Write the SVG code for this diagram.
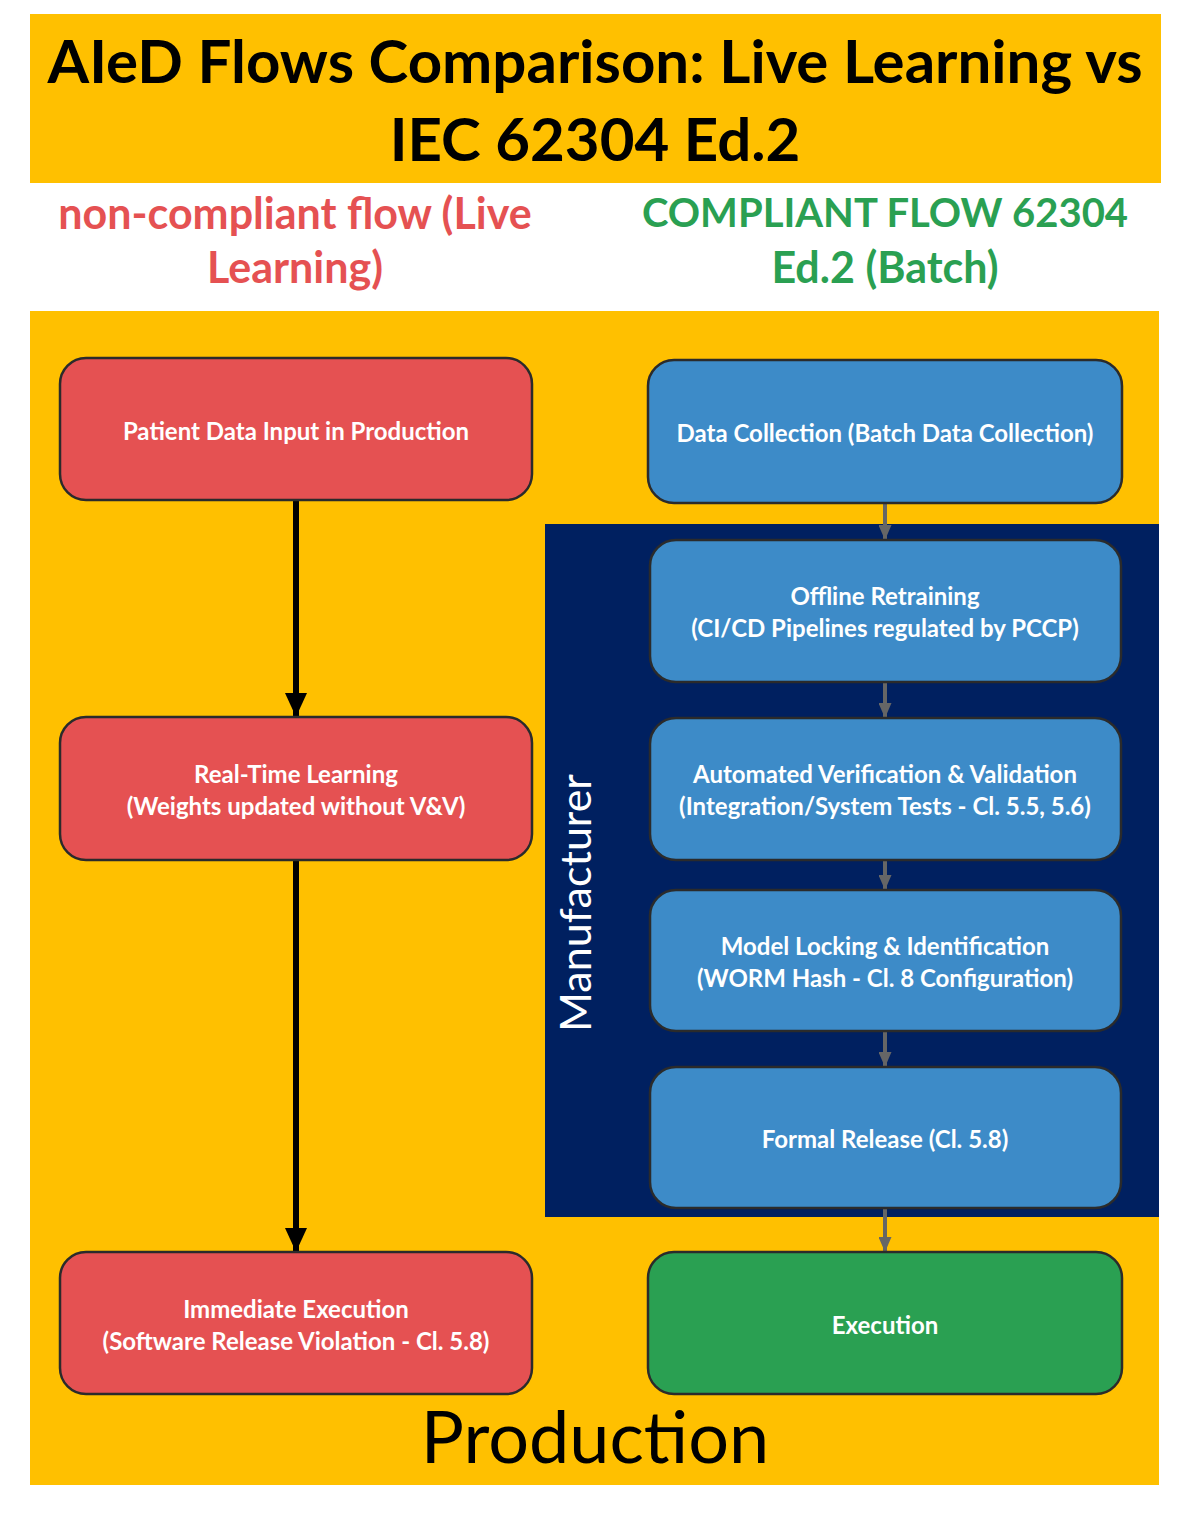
<svg xmlns="http://www.w3.org/2000/svg" width="1200" height="1528" viewBox="0 0 1200 1528">
<defs>
<style>
.bg{fill:#FFC000}
.red{fill:#E55152;stroke:#2B2B2B;stroke-width:2.5}
.blue{fill:#3D8BC8;stroke:#2B2B2B;stroke-width:2.5}
.green{fill:#2AA052;stroke:#2B2B2B;stroke-width:2.5}
.nt{font-family:Lato,"Open Sans",sans-serif;font-weight:bold;font-size:24px;fill:#FFFFFF;text-anchor:middle;dominant-baseline:central}
.title{font-family:Lato,"Open Sans",sans-serif;font-weight:bold;font-size:60px;fill:#000;text-anchor:middle;dominant-baseline:central}
.sub{font-family:Lato,"Open Sans",sans-serif;font-weight:bold;font-size:43px;text-anchor:middle;dominant-baseline:central}
.subg{font-family:Lato,"Open Sans",sans-serif;font-weight:bold;font-size:40px;text-anchor:middle;dominant-baseline:central}
.blk{stroke:#000;stroke-width:6;fill:none}
.gry{stroke:#666;stroke-width:4;fill:none}
</style>
<marker id="ab" markerUnits="userSpaceOnUse" markerWidth="24" markerHeight="22" refX="23" refY="11" orient="auto" viewBox="0 0 24 22"><path d="M0,0 L24,11 L0,22 Z" fill="#000"/></marker>
<marker id="ag" markerUnits="userSpaceOnUse" markerWidth="15" markerHeight="13" refX="14" refY="6.5" orient="auto" viewBox="0 0 15 13"><path d="M0,0 L15,6.5 L0,13 Z" fill="#666"/></marker>
</defs>
<rect width="1200" height="1528" fill="#fff"/>
<g id="title">
<rect class="bg" x="30" y="14" width="1131" height="169"/>
<text class="title" x="595" y="60">AIeD Flows Comparison: Live Learning vs</text>
<text class="title" x="595" y="138">IEC 62304 Ed.2</text>
</g>
<g id="subtitles">
<text class="sub" x="295" y="212" fill="#E55152">non-compliant flow (Live</text>
<text class="sub" x="295" y="266" fill="#E55152">Learning)</text>
<text class="subg" x="885" y="212" fill="#2AA052">COMPLIANT FLOW 62304</text>
<text class="sub" x="885" y="266" fill="#2AA052">Ed.2 (Batch)</text>
</g>
<g id="production">
<rect class="bg" x="30" y="311" width="1129" height="1174"/>
<text x="595" y="1435" font-family="Lato,'Open Sans',sans-serif" font-size="72" fill="#000" text-anchor="middle" dominant-baseline="central">Production</text>
</g>
<g id="manufacturer">
<rect x="545" y="524" width="614" height="693" fill="#002060"/>
<text transform="translate(574,903) rotate(-90)" font-family="Lato,'Open Sans',sans-serif" font-size="43" fill="#fff" text-anchor="middle" dominant-baseline="central">Manufacturer</text>
</g>
<g id="connectors">
<line class="blk" x1="296" y1="501" x2="296" y2="716" marker-end="url(#ab)"/>
<line class="blk" x1="296" y1="860" x2="296" y2="1251" marker-end="url(#ab)"/>
<line class="gry" x1="885" y1="503" x2="885" y2="539" marker-end="url(#ag)"/>
<line class="gry" x1="885" y1="682" x2="885" y2="717" marker-end="url(#ag)"/>
<line class="gry" x1="885" y1="860" x2="885" y2="889" marker-end="url(#ag)"/>
<line class="gry" x1="885" y1="1031" x2="885" y2="1066" marker-end="url(#ag)"/>
<line class="gry" x1="885" y1="1208" x2="885" y2="1251" marker-end="url(#ag)"/>
</g>
<g id="n_patient">
<rect class="red" x="60" y="358" width="472" height="142" rx="26"/>
<text class="nt" x="296" y="430">Patient Data Input in Production</text>
</g>
<g id="n_realtime">
<rect class="red" x="60" y="717" width="472" height="143" rx="26"/>
<text class="nt" x="296" y="773">Real-Time Learning</text>
<text class="nt" x="296" y="805">(Weights updated without V&amp;V)</text>
</g>
<g id="n_immediate">
<rect class="red" x="60" y="1252" width="472" height="142" rx="26"/>
<text class="nt" x="296" y="1308">Immediate Execution</text>
<text class="nt" x="296" y="1340">(Software Release Violation - Cl. 5.8)</text>
</g>
<g id="n_datacollection">
<rect class="blue" x="648" y="360" width="474" height="143" rx="26"/>
<text class="nt" x="885" y="432">Data Collection (Batch Data Collection)</text>
</g>
<g id="n_offline">
<rect class="blue" x="650" y="540" width="471" height="142" rx="26"/>
<text class="nt" x="885" y="595">Offline Retraining</text>
<text class="nt" x="885" y="627">(CI/CD Pipelines regulated by PCCP)</text>
</g>
<g id="n_verification">
<rect class="blue" x="650" y="718" width="471" height="142" rx="26"/>
<text class="nt" x="885" y="773">Automated Verification &amp; Validation</text>
<text class="nt" x="885" y="805">(Integration/System Tests - Cl. 5.5, 5.6)</text>
</g>
<g id="n_locking">
<rect class="blue" x="650" y="890" width="471" height="141" rx="26"/>
<text class="nt" x="885" y="945">Model Locking &amp; Identification</text>
<text class="nt" x="885" y="977">(WORM Hash - Cl. 8 Configuration)</text>
</g>
<g id="n_release">
<rect class="blue" x="650" y="1067" width="471" height="141" rx="26"/>
<text class="nt" x="885" y="1138">Formal Release (Cl. 5.8)</text>
</g>
<g id="n_execution">
<rect class="green" x="648" y="1252" width="474" height="142" rx="26"/>
<text class="nt" x="885" y="1324">Execution</text>
</g>
</svg>
